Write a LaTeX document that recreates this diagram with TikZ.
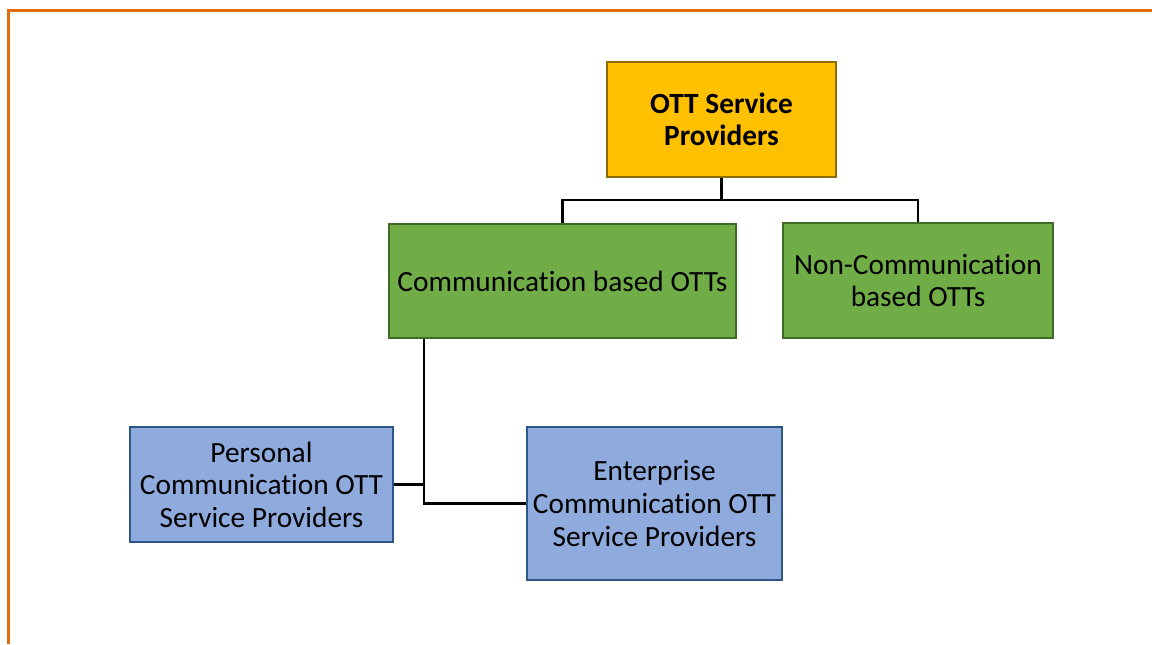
\documentclass[tikz,border=0pt]{standalone}
\usepackage{fontspec}
\setmainfont[Ligatures=NoCommon]{Carlito}
\usetikzlibrary{calc}
\definecolor{frameorange}{HTML}{E46C0A}
\definecolor{goldfill}{HTML}{FFC000}
\definecolor{golddraw}{HTML}{8C6D00}
\definecolor{greenfill}{HTML}{70AD47}
\definecolor{greendraw}{HTML}{3F6B27}
\definecolor{bluefill}{HTML}{8FAADC}
\definecolor{bluedraw}{HTML}{2E5788}
\tikzset{
  box/.style={draw, line width=1.5pt, align=center, inner sep=0pt,
    font=\fontsize{22}{24.4}\selectfont, text=black},
  rootbox/.style={box, fill=goldfill, draw=golddraw, font=\fontsize{22}{24.4}\selectfont\bfseries},
  greenbox/.style={box, fill=greenfill, draw=greendraw},
  bluebox/.style={box, fill=bluefill, draw=bluedraw},
  link/.style={draw=black, line width=2pt},
}
\begin{document}
\begin{tikzpicture}[x=0.75pt, y=-0.75pt]
  \useasboundingbox (0,0) rectangle (1152,644);
  % outer frame (only top and left edges fall inside the page)
  \draw[frameorange, line width=1.8pt] (8.5,644) -- (8.5,10.5) -- (1152,10.5);

  % boxes
  \node[rootbox, minimum width=229*0.75pt, minimum height=115*0.75pt]
    (root) at (721.5,119.5) {OTT Service\\Providers};
  \node[greenbox, minimum width=347*0.75pt, minimum height=114*0.75pt]
    (comm) at (562.5,281) {Communication based OTTs};
  \node[greenbox, minimum width=270*0.75pt, minimum height=115*0.75pt]
    (noncomm) at (918,280.5) {Non-Communication\\based OTTs};
  \node[bluebox, minimum width=263*0.75pt, minimum height=115*0.75pt]
    (pers) at (261.5,484.5) {Personal\\Communication OTT\\Service Providers};
  \node[bluebox, minimum width=255*0.75pt, minimum height=153*0.75pt]
    (ent) at (654.5,503.5) {Enterprise\\Communication OTT\\Service Providers};

  % junction points of the connectors
  \coordinate (j1) at (721.5,200);
  \coordinate (j2) at (424,503.5);

  % connectors
  \draw[link] (root.south) -- (j1);
  \draw[link] (comm.north) |- (j1) -| (noncomm.north);
  \draw[link] (comm.south -| j2) |- (ent.west);
  \draw[link] (pers.east) -- (pers.east -| j2);
\end{tikzpicture}
\end{document}
